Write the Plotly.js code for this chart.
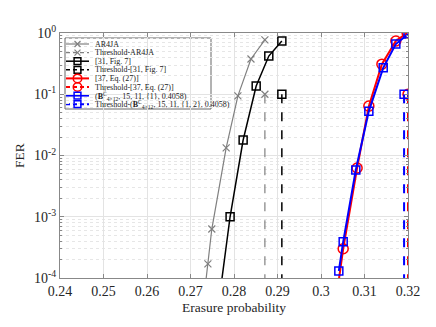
<!DOCTYPE html>
<html>
<head>
<meta charset="utf-8">
<script src="https://cdn.plot.ly/plotly-3.0.1.min.js"></script>
<style>
  body { margin: 0; background: #fff; }
  #grafica { width: 436px; height: 327px; }
</style>
</head>
<body>
<div id="grafica"></div>
<script>
// AR4JA
var ar4jaX = [0.2720, 0.2740, 0.2749, 0.2782, 0.2809, 0.2839, 0.2871];
var ar4jaY = [1e-5, 1.7e-4, 6.3e-4, 0.0133, 0.094, 0.376, 0.77];
var ar4jaThr = 0.2871;

// [31, Fig. 7]
var ref31X = [0.2754, 0.2791, 0.2821, 0.2851, 0.2880, 0.2910];
var ref31Y = [1e-5, 1.0e-3, 0.0179, 0.136, 0.42, 0.74];
var ref31Thr = 0.2910;

// [37, Eq. (27)]
var ref37X = [0.3022, 0.3051, 0.3083, 0.3110, 0.3140, 0.3172, 0.3198];
var ref37Y = [1e-5, 3.0e-4, 0.00625, 0.064, 0.31, 0.74, 1.0];
var ref37Thr = 0.3200;

// propuesta
var propX = [0.3041, 0.3051, 0.3080, 0.3110, 0.3143, 0.3172, 0.3200];
var propY = [1.3e-4, 3.9e-4, 0.0058, 0.053, 0.27, 0.66, 0.96];
var propThr = 0.3191;

var thrY = [0.1, 1e-5];
var xTicks = [0.24, 0.25, 0.26, 0.27, 0.28, 0.29, 0.3, 0.31, 0.32];
var xTickText = ['0.24', '0.25', '0.26', '0.27', '0.28', '0.29', '0.3', '0.31', '0.32'];
var yTicks = [1e-4, 1e-3, 1e-2, 1e-1, 1];
var yTickText = ['10<sup>-4</sup>', '10<sup>-3</sup>', '10<sup>-2</sup>', '10<sup>-1</sup>', '10<sup>0</sup>'];

var gris = '#808080';
var bTxt = '(<b>B</b><sup>Ĉ</sup><sub>4×12</sub>';
var nombres = ['AR4JA', 'Threshold-AR4JA', '[31, Fig. 7]', 'Threshold-[31, Fig. 7]',
               '[37, Eq. (27)]', 'Threshold-[37, Eq. (27)]',
               bTxt + ', 15, 11, {1}, 0.4058)', 'Threshold-' + bTxt + ', 15, 11, {1, 2}, 0.4058)'];

// estilos: color, simbolo, tamano, ancho de linea, guion
var estilos = [
    [gris, 'x-thin-open', 7, 1.2, 'solid'],
    [gris, 'x-thin-open', 7, 1.2, 'dash'],
    ['black', 'square-open', 8, 1.5, 'solid'],
    ['black', 'square-open', 8, 1.5, 'dash'],
    ['red', 'circle-open', 10, 2, 'solid'],
    ['red', 'circle-open', 10, 2, 'dash'],
    ['blue', 'square-open', 8, 2, 'solid'],
    ['blue', 'square-open', 8, 2, 'dash']
];

function umbral(v) { return [v, v]; }

var series = [
    [ar4jaX, ar4jaY], [umbral(ar4jaThr), thrY],
    [ref31X, ref31Y], [umbral(ref31Thr), thrY],
    [ref37X, ref37Y], [umbral(ref37Thr), thrY],
    [propX, propY], [umbral(propThr), thrY]
];

function traza(i, x, y, xa, ya, escala) {
    var e = estilos[i];
    return {
        type: 'scatter', mode: 'lines+markers', name: nombres[i],
        x: x, y: y, xaxis: xa, yaxis: ya, showlegend: false, hoverinfo: 'skip',
        line: {color: e[0], width: e[3], dash: e[4]},
        marker: {symbol: e[1], size: e[2] * escala, color: e[0], line: {color: e[0], width: e[1] == 'x-thin-open' ? 1.2 : 1.5}}
    };
}

var data = [];
series.forEach(function(s, i) {
    data.push(traza(i, s[0], s[1], 'x', 'y', 1));
});

// leyenda compacta dibujada a mano (posiciones en fraccion del area de la grafica)
var W = 348, H = 245;
var legX0 = 5 / W, legX1 = 151 / W, legY1 = 1 - 5 / H, legY0 = 1 - 76 / H;
var filaY = function(i) { return 1 - (11 + 8.6 * i) / H; };
var muestraX0 = 6 / W, muestraX1 = 29 / W, muestraXc = 17.5 / W, textoX = 33 / W;

var formas = [{
    type: 'rect', xref: 'paper', yref: 'paper', x0: legX0, x1: legX1, y0: legY0, y1: legY1,
    fillcolor: 'white', line: {color: '#666', width: 1}, layer: 'between'
}];
var notas = [];
nombres.forEach(function(n, i) {
    var e = estilos[i];
    formas.push({
        type: 'line', xref: 'paper', yref: 'paper', x0: muestraX0, x1: muestraX1, y0: filaY(i), y1: filaY(i),
        line: {color: e[0], width: e[3], dash: e[4] == 'dash' ? '4px,3px' : 'solid'}, layer: 'between'
    });
    notas.push({
        xref: 'paper', yref: 'paper', x: textoX, y: filaY(i), xanchor: 'left', yanchor: 'middle',
        text: n, showarrow: false, font: {size: 8, color: '#222'}
    });
    var t = traza(i, [muestraXc], [filaY(i)], 'x2', 'y2', 0.85);
    t.mode = 'markers';
    t.cliponaxis = false;
    data.push(t);
});

var fuente = '"Liberation Serif", "Times New Roman", serif';

var layout = {
    width: 436, height: 327,
    margin: {l: 60, r: 28, t: 33, b: 49},
    paper_bgcolor: 'white', plot_bgcolor: 'white',
    font: {family: fuente, size: 13, color: '#262626'},
    showlegend: false,
    shapes: formas,
    annotations: notas,
    xaxis: {
        range: [0.24, 0.32], tickvals: xTicks, ticktext: xTickText,
        ticks: 'inside', ticklen: 4, tickcolor: '#888',
        showline: true, linecolor: '#888', linewidth: 1, mirror: 'ticks',
        showgrid: true, gridcolor: '#e3e3e3', gridwidth: 1,
        zeroline: false,
        title: {text: 'Erasure probability', font: {family: fuente, size: 13.5, color: '#262626'}, standoff: 4},
        tickfont: {family: fuente, size: 14, color: '#262626'}
    },
    yaxis: {
        type: 'log', range: [-4, 0], tickvals: yTicks, ticktext: yTickText,
        ticks: 'inside', ticklen: 4, tickcolor: '#888',
        showline: true, linecolor: '#888', linewidth: 1, mirror: 'ticks',
        showgrid: true, gridcolor: '#e3e3e3', gridwidth: 1,
        zeroline: false,
        minor: {dtick: 'D1', showgrid: true, gridcolor: '#e6e6e6', griddash: 'dot', gridwidth: 1, ticks: 'inside', ticklen: 2, tickcolor: '#888'},
        title: {text: 'FER', font: {family: fuente, size: 13.5, color: '#262626'}, standoff: 6},
        tickfont: {family: fuente, size: 14, color: '#262626'}
    },
    xaxis2: {overlaying: 'x', range: [0, 1], visible: false, fixedrange: true},
    yaxis2: {overlaying: 'y', range: [0, 1], visible: false, fixedrange: true}
};

Plotly.newPlot('grafica', data, layout, {displayModeBar: false, staticPlot: true});
</script>
</body>
</html>
